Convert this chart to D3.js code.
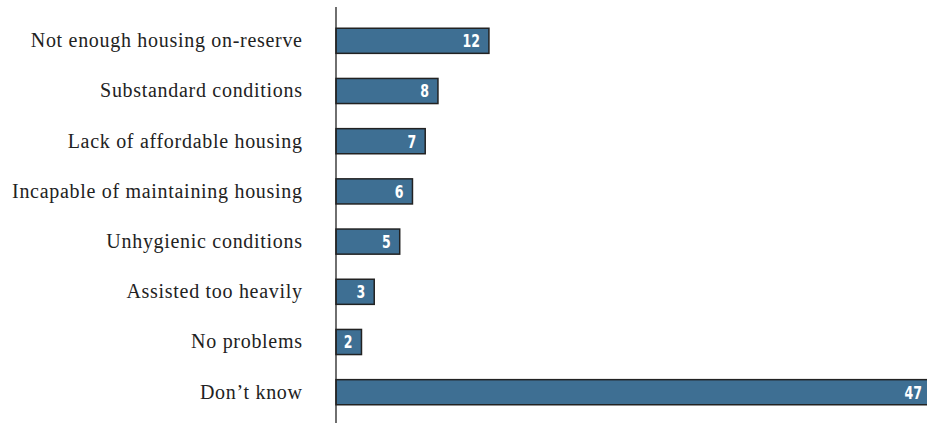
<!DOCTYPE html>
<html>
<head>
<meta charset="utf-8">
<script src="https://cdn.jsdelivr.net/npm/d3@7"></script>
<style>
  html, body { margin: 0; padding: 0; background: #fff; }
  svg { display: block; }
</style>
</head>
<body>
<svg id="chart" width="927" height="423"></svg>
<script>
const categories = [
  "Not enough housing on-reserve",
  "Substandard conditions",
  "Lack of affordable housing",
  "Incapable of maintaining housing",
  "Unhygienic conditions",
  "Assisted too heavily",
  "No problems",
  "Don\u2019t know"
];
const values = [12, 8, 7, 6, 5, 3, 2, 47];

const svg = d3.select("#chart");
const axisX = 336;

const x = d3.scaleLinear().domain([0, 47]).range([axisX, axisX + 599]);
const y = d3.scaleBand().domain(categories).range([15.7, 417.3]).paddingInner(0.5).paddingOuter(0.25);

// bars
svg.append("g").selectAll("rect")
  .data(values)
  .join("rect")
  .attr("x", x(0))
  .attr("y", (d, i) => y(categories[i]))
  .attr("width", d => x(d) - x(0))
  .attr("height", y.bandwidth())
  .attr("fill", "#3e6f93")
  .attr("stroke", "#222")
  .attr("stroke-width", 1.5);

// value labels inside the bar ends, horizontally condensed
const sx = 0.74;
svg.append("g").selectAll("text")
  .data(values)
  .join("text")
  .attr("transform", (d, i) =>
    `translate(${Math.min(x(d), 931) - 9},${y(categories[i]) + y.bandwidth() / 2}) scale(${sx},1)`)
  .attr("dy", "0.37em")
  .attr("text-anchor", "end")
  .attr("fill", "#fff")
  .attr("font-family", "'DejaVu Sans', sans-serif")
  .attr("font-weight", "bold")
  .attr("font-size", 17)
  .text(d => d);

// category labels
svg.append("g").selectAll("text")
  .data(categories)
  .join("text")
  .attr("x", 302.7)
  .attr("y", d => y(d) + y.bandwidth() / 2)
  .attr("dy", "0.32em")
  .attr("text-anchor", "end")
  .attr("fill", "#222")
  .attr("font-family", "'Liberation Serif', serif")
  .attr("font-size", 20)
  .attr("letter-spacing", "0.7px")
  .text(d => d);

// vertical axis line
svg.append("line")
  .attr("x1", axisX).attr("x2", axisX)
  .attr("y1", 7).attr("y2", 423)
  .attr("stroke", "#222")
  .attr("stroke-width", 1.3);
</script>
</body>
</html>
